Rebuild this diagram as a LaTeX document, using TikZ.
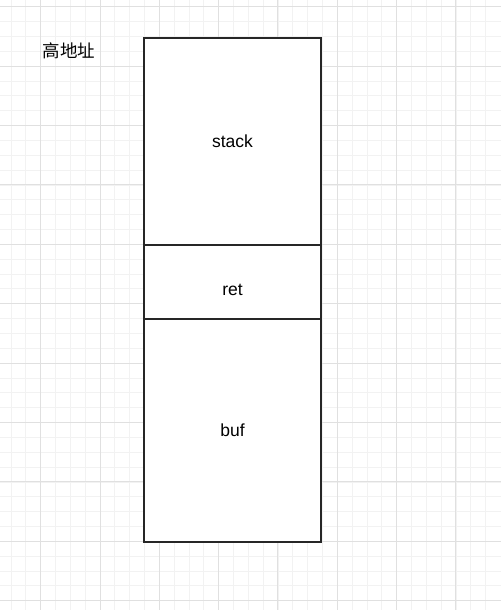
\documentclass[tikz,border=0pt]{standalone}
\usepackage{fontspec}
\setmainfont{Liberation Sans}
\newfontfamily\cjk{Noto Sans CJK SC}
\begin{document}
\begin{tikzpicture}[x=1pt,y=-1pt,
  cell/.style={draw=black!85,line width=1.2pt,minimum width=177pt,inner sep=0pt,outer sep=0pt},
  lbl/.style={font=\fontsize{17.5}{20}\selectfont,inner sep=0pt}]
\useasboundingbox (0,0) rectangle (501,610);
\fill[white] (0,0) rectangle (501,610);
% minor grid
\foreach \i in {0,...,34} {
  \draw[line width=0.8pt,black!5] ({-18.6+14.83*\i},0) -- ({-18.6+14.83*\i},610);
}
\foreach \i in {0,...,41} {
  \draw[line width=0.8pt,black!5] (0,{6.7+14.85*\i}) -- (501,{6.7+14.85*\i});
}
% major grid
\foreach \i in {0,...,8} {
  \draw[line width=1pt,black!12] ({40.7+59.3*\i},0) -- ({40.7+59.3*\i},610);
}
\foreach \i in {0,...,10} {
  \draw[line width=1pt,black!12] (0,{6.7+59.4*\i}) -- (501,{6.7+59.4*\i});
}
\node[cell,fill=white,minimum height=207pt,anchor=north west] (stack) at (144,38) {};
\node[cell,fill=white,minimum height=74pt,anchor=north west] (ret) at (stack.south west) {};
\node[cell,fill=white,minimum height=223pt,anchor=north west] (buf) at (ret.south west) {};
\node[lbl] (stacklbl) at (stack.center) {stack};
\node[lbl] (retlbl) at ([yshift=-8pt]ret.center) {ret};
\node[lbl] (buflbl) at (buf.center) {buf};
\node[lbl,font=\cjk\fontsize{17.5}{20}\selectfont] (addr) at (69,51) {高地址};
\end{tikzpicture}
\end{document}
